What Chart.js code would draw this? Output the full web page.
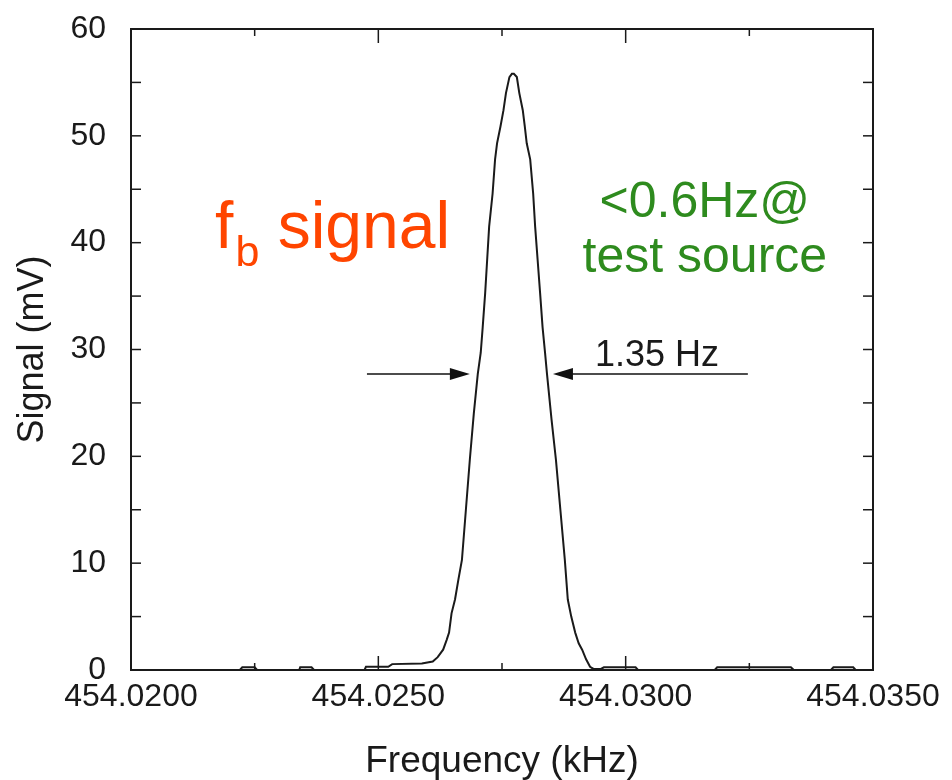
<!DOCTYPE html>
<html>
<head>
<meta charset="utf-8">
<script src="https://cdn.jsdelivr.net/npm/chart.js@4"></script>
<style>
  body { margin: 0; background: #ffffff; }
  #chart { display: block; }
</style>
</head>
<body>
<canvas id="chart" width="952" height="780"></canvas>
<script>
// Measured spectrum (frequency in kHz, signal in mV)
const freqKHz = [
    454.02000, 454.02220, 454.02225, 454.02250, 454.02255, 454.02340, 454.02342, 454.02365, 454.02370, 454.02472,
    454.02475, 454.02520, 454.02528, 454.02588, 454.02610, 454.02620, 454.02631, 454.02638, 454.02643, 454.02648,
    454.02655, 454.02662, 454.02669, 454.02677, 454.02685, 454.02693, 454.02701, 454.02707, 454.02711, 454.02716,
    454.02720, 454.02724, 454.02731, 454.02736, 454.02740, 454.02747, 454.02753, 454.02758, 454.02765, 454.02770,
    454.02774, 454.02780, 454.02785, 454.02792, 454.02796, 454.02800, 454.02807, 454.02813, 454.02817, 454.02822,
    454.02827, 454.02832, 454.02837, 454.02841, 454.02850, 454.02859, 454.02868, 454.02877, 454.02883, 454.02890,
    454.02898, 454.02905, 454.02912, 454.02920, 454.02928, 454.02935, 454.02950, 454.02956, 454.03020, 454.03025,
    454.03180, 454.03185, 454.03334, 454.03340, 454.03415, 454.03420, 454.03460, 454.03465, 454.03500
];
const signalMV = [
    0, 0, 0.25, 0.25, 0, 0, 0.25, 0.25, 0, 0,
    0.3, 0.3, 0.55, 0.6, 0.8, 1.2, 1.9, 2.8, 3.5, 5.3,
    6.6, 8.5, 10.3, 15, 19.7, 24, 27.7, 29.7, 32.1, 35.3,
    38.4, 41.5, 44.6, 47.8, 49.3, 50.9, 52.4, 54.0, 55.5, 55.8,
    55.8, 55.5, 54.0, 52.4, 50.9, 49.3, 47.8, 44.6, 41.5, 38.4,
    35.3, 32.1, 29.7, 27.7, 23.5, 19.7, 15, 10.3, 6.6, 5.0,
    3.5, 2.5, 1.9, 1.0, 0.3, 0.1, 0.1, 0.25, 0.25, 0,
    0, 0.25, 0.25, 0, 0, 0.25, 0.25, 0, 0
];

// Axis ticks
const xMajorTicks = [454.0200, 454.0250, 454.0300, 454.0350];
const xMinorTicks = [454.0225, 454.0275, 454.0325];
const yMajorTicks = [0, 10, 20, 30, 40, 50, 60];
const yMinorTicks = [5, 15, 25, 35, 45, 55];

// Linewidth marker (data coords)
const fwhmLevel = 27.7;
const leftArrow = [454.02477, 454.02685];
const rightArrow = [454.03247, 454.02853];

const FONT = '"Liberation Sans", Arial, sans-serif';

// Frame + inward ticks + annotations
const framePlugin = {
    id: 'frame',
    afterDatasetsDraw(chart) {
        const ctx = chart.ctx;
        const xs = chart.scales.x;
        const ys = chart.scales.y;
        const a = chart.chartArea;
        ctx.save();
        ctx.strokeStyle = '#1a1a1a';
        ctx.lineWidth = 2;
        ctx.strokeRect(a.left, a.top, a.right - a.left, a.bottom - a.top);

        ctx.lineWidth = 1.5;
        const tick = (x1, y1, x2, y2) => {
            ctx.beginPath();
            ctx.moveTo(x1, y1);
            ctx.lineTo(x2, y2);
            ctx.stroke();
        };
        xMajorTicks.forEach(v => {
            const px = xs.getPixelForValue(v);
            tick(px, a.bottom, px, a.bottom - 14);
            tick(px, a.top, px, a.top + 14);
        });
        xMinorTicks.forEach(v => {
            const px = xs.getPixelForValue(v);
            tick(px, a.bottom, px, a.bottom - 7);
            tick(px, a.top, px, a.top + 7);
        });
        yMajorTicks.concat(yMinorTicks).forEach(v => {
            const py = ys.getPixelForValue(v);
            tick(a.left, py, a.left + 10, py);
            tick(a.right, py, a.right - 10, py);
        });

        // FWHM arrows
        const ay = ys.getPixelForValue(fwhmLevel);
        const arrow = (from, to) => {
            const x1 = xs.getPixelForValue(from);
            const x2 = xs.getPixelForValue(to);
            const dir = Math.sign(x2 - x1);
            ctx.strokeStyle = '#111';
            ctx.fillStyle = '#111';
            ctx.lineWidth = 1.5;
            tick(x1, ay, x2 - dir * 18, ay);
            ctx.beginPath();
            ctx.moveTo(x2, ay);
            ctx.lineTo(x2 - dir * 20, ay - 6);
            ctx.lineTo(x2 - dir * 20, ay + 6);
            ctx.closePath();
            ctx.fill();
        };
        arrow(leftArrow[0], leftArrow[1]);
        arrow(rightArrow[0], rightArrow[1]);

        ctx.textBaseline = 'alphabetic';
        ctx.textAlign = 'left';
        ctx.fillStyle = '#1a1a1a';
        ctx.font = '36px ' + FONT;
        ctx.fillText('1.35 Hz', xs.getPixelForValue(454.02938), ys.getPixelForValue(28.5));

        // f_b signal
        ctx.fillStyle = '#ff4500';
        let fx = xs.getPixelForValue(454.02170);
        const fy = ys.getPixelForValue(39.5);
        ctx.font = '66px ' + FONT;
        ctx.fillText('f', fx, fy);
        fx += ctx.measureText('f').width + 2;
        ctx.font = '43px ' + FONT;
        ctx.fillText('b', fx, fy + 18);
        fx += ctx.measureText('b').width;
        ctx.font = '66px ' + FONT;
        ctx.fillText(' signal', fx, fy);

        // test source note
        ctx.fillStyle = '#2e8b1e';
        ctx.font = '50px ' + FONT;
        ctx.textAlign = 'center';
        const gx = xs.getPixelForValue(454.03160);
        ctx.fillText('<0.6Hz@', gx, ys.getPixelForValue(42.4));
        ctx.fillText('test source', gx, ys.getPixelForValue(37.3));
        ctx.restore();
    }
};

new Chart(document.getElementById('chart'), {
    type: 'line',
    data: {
        datasets: [{
            data: freqKHz.map((f, i) => ({ x: f, y: signalMV[i] })),
            borderColor: '#1a1a1a',
            borderWidth: 2,
            pointRadius: 0,
            tension: 0,
            fill: false
        }]
    },
    options: {
        responsive: false,
        animation: false,
        devicePixelRatio: 1,
        layout: { padding: { top: 29, right: 79, left: 0, bottom: 0 } },
        plugins: {
            legend: { display: false },
            tooltip: { enabled: false }
        },
        scales: {
            x: {
                type: 'linear',
                min: 454.020,
                max: 454.035,
                afterBuildTicks: (scale) => { scale.ticks = xMajorTicks.map(v => ({ value: v })); },
                afterFit: (scale) => {
                    scale.height = 110;
                    scale.paddingLeft = 0;
                    scale.paddingRight = 0;
                },
                grid: { display: false, drawTicks: false },
                border: { display: false },
                ticks: {
                    padding: 8,
                    maxRotation: 0,
                    autoSkip: false,
                    color: '#1a1a1a',
                    font: { family: FONT, size: 32 },
                    callback: (v) => Number(v).toFixed(4)
                },
                title: {
                    display: true,
                    text: 'Frequency (kHz)',
                    color: '#1a1a1a',
                    padding: 0,
                    font: { family: FONT, size: 37, lineHeight: 1 }
                }
            },
            y: {
                min: 0,
                max: 60,
                afterBuildTicks: (scale) => { scale.ticks = yMajorTicks.map(v => ({ value: v })); },
                afterFit: (scale) => {
                    scale.width = 131;
                    scale.paddingTop = 0;
                    scale.paddingBottom = 0;
                },
                grid: { display: false, drawTicks: false },
                border: { display: false },
                ticks: {
                    padding: 25,
                    color: '#1a1a1a',
                    font: { family: FONT, size: 32 }
                },
                title: {
                    display: true,
                    text: 'Signal (mV)',
                    color: '#1a1a1a',
                    padding: 15,
                    font: { family: FONT, size: 36, lineHeight: 1 }
                }
            }
        }
    },
    plugins: [framePlugin]
});
</script>
</body>
</html>
